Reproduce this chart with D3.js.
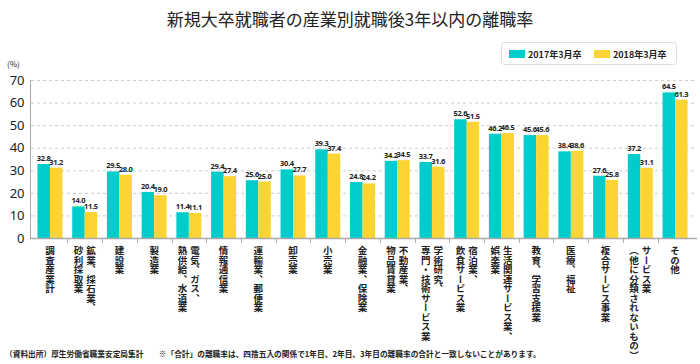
<!DOCTYPE html>
<html><head><meta charset="utf-8">
<script src="https://cdn.jsdelivr.net/npm/d3@7"></script>
<style>
body{margin:0;background:#fff;}
svg{font-family:"Noto Sans CJK JP","Noto Sans",sans-serif;display:block;}
</style></head><body>
<svg id="c" width="700" height="364"></svg>
<script>
const categories = [
  ["調査産業計"],
  ["鉱業、採石業、","砂利採取業"],
  ["建設業"],
  ["製造業"],
  ["電気、ガス、","熱供給、水道業"],
  ["情報通信業"],
  ["運輸業、郵便業"],
  ["卸売業"],
  ["小売業"],
  ["金融業、保険業"],
  ["不動産業、","物品賃貸業"],
  ["学術研究、","専門・技術サービス業"],
  ["宿泊業、","飲食サービス業"],
  ["生活関連サービス業、","娯楽業"],
  ["教育、学習支援業"],
  ["医療、福祉"],
  ["複合サービス事業"],
  ["サービス業","（他に分類されないもの）"],
  ["その他"]
];
const seriesNames = ["2017年3月卒","2018年3月卒"];
const values2017 = [32.8,14.0,29.5,20.4,11.4,29.4,25.6,30.4,39.3,24.8,34.2,33.7,52.6,46.2,45.6,38.4,27.6,37.2,64.5];
const values2018 = [31.2,11.5,28.0,19.0,11.1,27.4,25.0,27.7,37.4,24.2,34.5,31.6,51.5,46.5,45.6,38.6,25.8,31.1,61.3];
const yTicks = [0,10,20,30,40,50,60,70];
const colors = ["#00CCCC","#FCD535"];

const svg = d3.select("#c");
const y = d3.scaleLinear().domain([0,70]).range([238,80]);
const x = d3.scaleBand().domain(d3.range(categories.length)).range([32.6,692.4]);
const x1 = d3.scaleBand().domain([0,1]).range([0,25]);
const off = (x.bandwidth()-25)/2;

// title
svg.append("text").attr("x",350).attr("y",26).attr("text-anchor","middle")
  .attr("font-size",17).attr("fill","#222").text("新規大卒就職者の産業別就職後3年以内の離職率");

// legend
const lg = svg.append("g");
lg.append("rect").attr("x",501.5).attr("y",42.5).attr("width",175).attr("height",22).attr("rx",3)
  .attr("fill","#fff").attr("stroke","#ddd");
const lx = [509,594];
seriesNames.forEach((n,i)=>{
  lg.append("rect").attr("x",lx[i]).attr("y",50).attr("width",16).attr("height",8).attr("fill",colors[i]);
  lg.append("text").attr("x",lx[i]+19).attr("y",57.5).attr("font-size",9).attr("font-weight","bold").attr("fill","#222").text(n);
});

// grid
svg.append("g").selectAll("line").data(yTicks.filter(d=>d>0)).join("line")
  .attr("x1",31).attr("x2",697).attr("y1",d=>y(d)+0.5).attr("y2",d=>y(d)+0.5)
  .attr("stroke","#ccc").attr("stroke-dasharray","3,3");

// y axis
const ya = svg.append("g").attr("transform","translate(30.5,0)")
  .call(d3.axisLeft(y).tickValues(yTicks).tickSize(0).tickPadding(6));
ya.select(".domain").attr("stroke","#aaa").attr("d",`M0,${y(70)}V${y(0)}`);
ya.selectAll("text").attr("font-size",13).attr("fill","#222").attr("font-family","Noto Sans, sans-serif");
svg.append("text").attr("x",7).attr("y",67).attr("font-size",8).attr("fill","#222").text("(%)");

// bars
const data = categories.map((c,i)=>({i,v:[values2017[i],values2018[i]]}));
const g = svg.append("g");
const grp = g.selectAll("g").data(data).join("g").attr("transform",d=>`translate(${x(d.i)+off},0)`);
grp.selectAll("rect").data(d=>d.v.map((v,k)=>({v,k}))).join("rect")
  .attr("x",d=>x1(d.k)).attr("width",x1.bandwidth()).attr("y",d=>y(d.v)).attr("height",d=>y(0)-y(d.v))
  .attr("fill",d=>colors[d.k]);
grp.selectAll("text").data(d=>d.v.map((v,k)=>({v,k}))).join("text")
  .attr("x",d=>x1(d.k)+x1.bandwidth()/2).attr("y",d=>y(d.v)-3).attr("text-anchor","middle")
  .attr("font-size",7.5).attr("font-weight","bold").attr("fill","#222")
  .attr("letter-spacing",-0.3)
  .attr("font-family","Noto Sans, sans-serif")
  .text(d=>d.v.toFixed(1));

// x baseline and ticks
svg.append("line").attr("x1",30).attr("x2",697).attr("y1",238.5).attr("y2",238.5).attr("stroke","#aaa").attr("stroke-width",1.5);
svg.append("g").selectAll("line").data(d3.range(1,categories.length)).join("line")
  .attr("x1",d=>Math.round(x(d))+0.5).attr("x2",d=>Math.round(x(d))+0.5).attr("y1",238).attr("y2",243).attr("stroke","#aaa");

// category labels (vertical)
const lab = svg.append("g");
data.forEach(d=>{
  const lines = categories[d.i];
  const cx = x(d.i)+x.bandwidth()/2;
  const n = lines.length;
  lines.forEach((t,j)=>{
    const colX = cx + ((n-1)/2 - j)*12.5;
    lab.append("text").attr("x",colX).attr("y",246)
      .attr("style","writing-mode:vertical-rl;")
      .attr("font-size",9.5).attr("font-weight","bold").attr("fill","#222").text(t);
  });
});

// footer
svg.append("text").attr("x",5).attr("y",357).attr("font-size",7.7).attr("font-weight","bold").attr("fill","#222")
  .text("（資料出所）厚生労働省職業安定局集計　　※「合計」の離職率は、四捨五入の関係で1年目、2年目、3年目の離職率の合計と一致しないことがあります。");
</script></body></html>
